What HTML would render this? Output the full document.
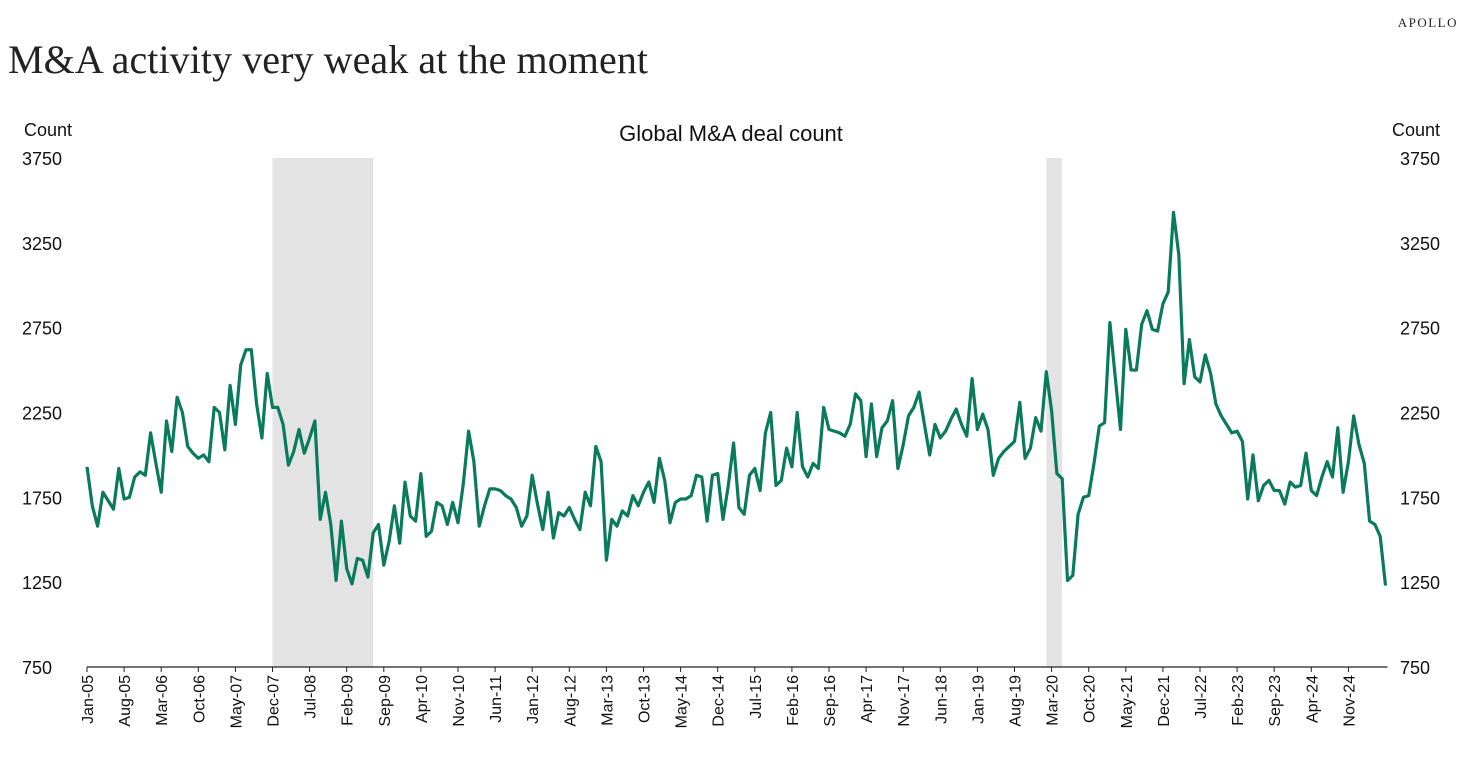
<!DOCTYPE html>
<html><head><meta charset="utf-8"><style>
body{margin:0;background:#fff;width:1464px;height:767px;overflow:hidden;font-family:"Liberation Sans",sans-serif}
svg{position:absolute;left:0;top:0}
</style></head><body>
<svg width="1464" height="767" id="c">
<text x="1458" y="27" text-anchor="end" font-family="Liberation Serif,serif" font-size="13" letter-spacing="1.5" fill="#222">APOLLO</text>
<text x="8" y="73" font-family="Liberation Serif,serif" font-size="40" fill="#222" textLength="640">M&amp;A activity very weak at the moment</text>
<text x="731" y="141" text-anchor="middle" font-size="22" fill="#111">Global M&amp;A deal count</text>
<text x="24" y="136" font-size="18" fill="#111">Count</text>
<text x="1392" y="136" font-size="18" fill="#111">Count</text>
<g id="g"></g>
</svg>
<script>
const startYear = 2005;
const values = [
1930,1700,1580,1780,1730,1680,1920,1740,1750,1870,1900,1880,
2130,1950,1780,2200,2020,2340,2250,2050,2010,1980,2000,1960,
2280,2250,2030,2410,2180,2530,2620,2620,2300,2100,2480,2280,
2280,2180,1940,2020,2150,2010,2100,2200,1620,1780,1590,1260,
1610,1330,1240,1390,1380,1280,1540,1590,1350,1490,1700,1480,
1840,1640,1610,1890,1520,1550,1720,1700,1590,1720,1600,1830,
2140,1960,1580,1700,1800,1800,1790,1760,1740,1690,1580,1640,
1880,1710,1560,1780,1510,1660,1640,1690,1620,1560,1780,1700,
2050,1960,1380,1620,1580,1670,1640,1760,1700,1780,1840,1720,
1980,1850,1600,1720,1740,1740,1760,1880,1870,1610,1880,1890,
1620,1820,2070,1690,1650,1880,1920,1790,2130,2250,1820,1850,
2040,1930,2250,1930,1870,1950,1920,2280,2150,2140,2130,2110,
2180,2360,2320,1990,2300,1990,2160,2200,2320,1920,2060,2230,
2280,2370,2180,2000,2180,2100,2140,2210,2270,2180,2110,2450,
2150,2240,2150,1880,1980,2020,2050,2080,2310,1980,2040,2220,
2140,2490,2260,1890,1860,1260,1290,1650,1750,1760,1950,2170,
2190,2780,2460,2150,2740,2500,2500,2770,2850,2740,2730,2890,
2960,3430,3180,2420,2680,2460,2430,2590,2480,2300,2230,2180,
2130,2140,2080,1740,2000,1730,1820,1850,1790,1790,1710,1840,
1810,1820,2010,1790,1760,1870,1960,1870,2160,1780,1960,2230,
2060,1950,1610,1590,1520,1230];
const yTicks = [750,1250,1750,2250,2750,3250,3750];
const recessions = [[35,54],[181,184]];
const monthNames = ["Jan","Feb","Mar","Apr","May","Jun","Jul","Aug","Sep","Oct","Nov","Dec"];
const labelStep = 7;

const X0=87, DX=5.3, Y0=667, Y1=158, VMIN=750, VMAX=3750;
const x = i => X0 + i*DX;
const y = v => Y0 - (v-VMIN)/(VMAX-VMIN)*(Y0-Y1);
const g = document.getElementById('g');
const NS='http://www.w3.org/2000/svg';
function mk(t,a){const e=document.createElementNS(NS,t);for(const k in a)e.setAttribute(k,a[k]);g.appendChild(e);return e;}

recessions.forEach(r=>{
  const e=mk('rect',{x:x(r[0]),y:Y1,width:x(r[1])-x(r[0]),height:Y0-Y1,fill:'#e3e3e3'});
  
  
});
yTicks.forEach(t=>{
  const a=mk('text',{x:22,y:y(t)+7,'font-size':18,fill:'#111'});a.textContent=t;
  
  
  const b=mk('text',{x:1400,y:y(t)+7,'font-size':18,fill:'#111'});b.textContent=t;
  
  
});
const ax=mk('line',{x1:X0,x2:x(values.length-1)+2,y1:Y0,y2:Y0,stroke:'#222','stroke-width':1.2});


for(let i=0;i+labelStep<values.length;i+=labelStep){
  const tk=mk('line',{x1:x(i),x2:x(i),y1:Y0,y2:Y0+5,stroke:'#222'});
  
  
  const yr=startYear+Math.floor(i/12), m=i%12;
  const lbl=monthNames[m]+'-'+String(yr%100).padStart(2,'0');
  const t=mk('text',{x:0,y:0,'font-size':16,fill:'#111','text-anchor':'end',transform:`translate(${x(i)+6},${Y0+8}) rotate(-90)`});
  t.textContent=lbl;
  
  
}
const p=mk('polyline',{points:values.map((v,i)=>x(i)+','+y(v)).join(' '),fill:'none',stroke:'#0a7a5c','stroke-width':3.2,'stroke-linejoin':'round'});


</script>
</body></html>
